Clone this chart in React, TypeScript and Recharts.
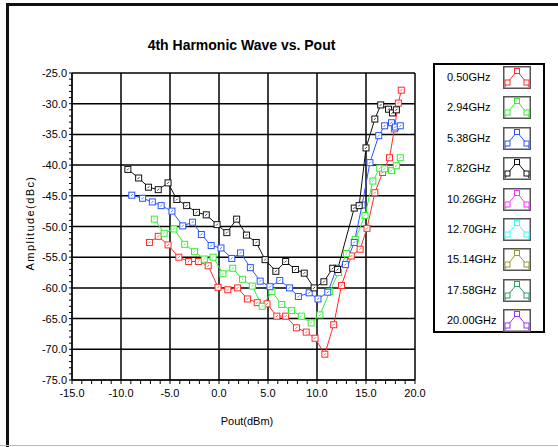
import { LineChart, Line, XAxis, YAxis, ReferenceLine } from "recharts";

// Pout (dBm) / amplitude (dBc), one pair of arrays per frequency
const RED_X = [-7.1, -6.2, -5.2, -4.1, -3.1, -2.1, -1.1, -0.1, 0.9, 1.9, 2.9, 3.9, 4.9, 5.9, 6.8, 7.9, 8.9, 9.8, 10.8, 11.7, 12.5, 13.5, 14.4, 15.1, 15.9, 16.7, 17.4, 17.9, 18.3, 18.6];
const RED_Y = [-52.6, -51.6, -53.0, -55.0, -55.7, -55.7, -56.4, -59.9, -60.3, -60.0, -61.8, -62.4, -62.6, -64.6, -64.6, -66.5, -67.2, -68.2, -70.8, -66.0, -59.6, -54.8, -53.7, -50.3, -44.5, -41.2, -38.8, -34.1, -29.9, -27.8];

const GREEN_X = [-6.6, -5.6, -4.6, -3.5, -2.5, -1.5, -0.6, 0.4, 1.4, 2.4, 3.4, 4.4, 5.4, 6.4, 7.4, 8.4, 9.4, 10.3, 11.3, 12.2, 13.0, 13.9, 14.9, 15.7, 16.4, 16.9, 17.6, 18.1, 18.5];
const GREEN_Y = [-48.8, -51.1, -50.4, -52.9, -54.1, -55.3, -55.0, -57.7, -56.8, -58.6, -59.7, -63.0, -60.6, -62.7, -63.7, -64.6, -65.7, -64.4, -60.6, -57.5, -54.4, -52.1, -48.2, -42.6, -40.5, -40.6, -40.9, -40.1, -38.8];

const BLUE_X = [-8.9, -7.8, -6.8, -5.9, -4.8, -3.7, -2.7, -1.8, -0.8, 0.2, 1.3, 2.2, 3.2, 4.2, 5.2, 6.2, 7.2, 8.1, 9.2, 10.1, 11.1, 12.0, 12.9, 13.8, 14.6, 15.4, 16.3, 16.9, 17.6, 18.0, 18.5];
const BLUE_Y = [-44.9, -45.4, -46.0, -46.6, -47.5, -49.9, -49.3, -51.3, -53.1, -53.5, -55.2, -54.3, -56.7, -58.9, -59.8, -58.8, -60.0, -61.4, -60.8, -61.8, -60.7, -56.8, -56.2, -52.6, -46.5, -39.6, -35.2, -33.6, -33.1, -33.8, -33.6];

const BLACK_X = [-9.3, -8.2, -7.2, -6.2, -5.2, -4.3, -3.3, -2.3, -1.3, -0.2, 0.8, 1.8, 2.8, 3.8, 4.7, 5.8, 6.8, 7.8, 8.7, 9.7, 10.7, 11.6, 12.1, 13.8, 14.3, 15.0, 15.9, 16.5, 17.3, 17.7, 18.1];
const BLACK_Y = [-40.7, -42.1, -43.6, -44.0, -42.9, -45.6, -46.6, -47.7, -48.1, -49.7, -51.0, -48.8, -51.4, -52.6, -55.4, -57.3, -55.7, -57.0, -57.6, -60.0, -59.0, -56.8, -57.0, -47.0, -46.6, -37.2, -32.5, -30.2, -30.9, -31.5, -31.0];

const LEGEND_LABELS = ["0.50GHz", "2.94GHz", "5.38GHz", "7.82GHz", "10.26GHz", "12.70GHz", "15.14GHz", "17.58GHz", "20.00GHz"];
const COLORS = ["#ff2b2b", "#33ee33", "#2a55ff", "#111111", "#ff33ff", "#33ffff", "#999933", "#339966", "#9933ff"];

const X_TICKS = Array.from({ length: 36 }, (_, i) => -15 + i);
const Y_TICKS = Array.from({ length: 51 }, (_, i) => -75 + i);
const X_MAJOR = [-15, -10, -5, 0, 5, 10, 15, 20];
const Y_MAJOR = [-75, -70, -65, -60, -55, -50, -45, -40, -35, -30, -25];

const FONT = '"Liberation Sans", Arial, sans-serif';

const zip = (xs: number[], ys: number[]) => xs.map((x, i) => ({ x, y: ys[i] }));

const SERIES = [
  { name: LEGEND_LABELS[0], color: COLORS[0], data: zip(RED_X, RED_Y) },
  { name: LEGEND_LABELS[1], color: COLORS[1], data: zip(GREEN_X, GREEN_Y) },
  { name: LEGEND_LABELS[2], color: COLORS[2], data: zip(BLUE_X, BLUE_Y) },
  { name: LEGEND_LABELS[3], color: COLORS[3], data: zip(BLACK_X, BLACK_Y) },
];

function squareDot(color: string) {
  return (p: any) => {
    if (p.cx == null || p.cy == null) return <g key={p.index} />;
    return (
      <g key={p.index}>
        <rect x={p.cx - 3} y={p.cy - 3} width={6} height={6} fill="#fff" stroke={color} strokeWidth={1} />
        <line x1={p.cx - 1} y1={p.cy + 1} x2={p.cx + 1} y2={p.cy - 1} stroke={color} strokeWidth={0.8} />
      </g>
    );
  };
}

const XTick = (p: any) => {
  const v = p.payload.value;
  if (v % 5 !== 0) return <g />;
  return (
    <text x={p.x} y={p.y} dy={9} textAnchor="middle" fontSize={11} fill="#000" fontFamily={FONT}>
      {v.toFixed(1)}
    </text>
  );
};

const YTick = (p: any) => {
  const v = p.payload.value;
  if (v % 5 !== 0) return <g />;
  return (
    <text x={p.x} y={p.y} dy={4} textAnchor="end" fontSize={11} fill="#000" fontFamily={FONT}>
      {v.toFixed(1)}
    </text>
  );
};

function LegendIcon({ color }: { color: string }) {
  return (
    <svg width={28} height={23} style={{ display: "block" }}>
      <rect x={0.75} y={0.75} width={26.5} height={21.5} fill="#fff" stroke="#555" strokeWidth={1.5} />
      <polyline points="2,21 4.5,16.5 14,5 23.5,16.5 26,21" fill="none" stroke={color} strokeWidth={1} />
      {[
        [4.5, 16.5],
        [14, 5],
        [23.5, 16.5],
      ].map(([cx, cy], i) => (
        <rect key={i} x={cx - 2.5} y={cy - 2.5} width={5} height={5} fill="#fff" stroke={color} strokeWidth={1} />
      ))}
    </svg>
  );
}

export default function App() {
  return (
    <div style={{ position: "relative", width: 558, height: 447, background: "#fff", fontFamily: FONT, overflow: "hidden" }}>
      <style>{`body{margin:0}`}</style>

      {/* outer frame */}
      <div style={{ position: "absolute", left: 6, top: 3, width: 552, height: 3, background: "#111" }} />
      <div style={{ position: "absolute", left: 6, top: 3, width: 3, height: 444, background: "#111" }} />
      <div style={{ position: "absolute", left: 0, top: 445, width: 558, height: 1, background: "#bbb" }} />

      <div style={{ position: "absolute", left: 0, top: 37, width: 483, textAlign: "center", fontSize: 14, fontWeight: "bold" }}>
        4th Harmonic Wave vs. Pout
      </div>

      <div
        style={{
          position: "absolute",
          left: 30,
          top: 223,
          transform: "translate(-50%, -50%) rotate(-90deg)",
          fontSize: 11,
          letterSpacing: 1.4,
          whiteSpace: "nowrap",
        }}
      >
        Amplitude(dBc)
      </div>

      <div style={{ position: "absolute", left: 247, top: 421, transform: "translate(-50%, -50%)", fontSize: 11, whiteSpace: "nowrap" }}>
        Pout(dBm)
      </div>

      <LineChart width={558} height={447} margin={{ top: 73, right: 143, bottom: 37, left: 8 }} style={{ position: "absolute", left: 0, top: 0 }}>
        <XAxis
          type="number"
          dataKey="x"
          domain={[-15, 20]}
          ticks={X_TICKS}
          interval={0}
          allowDataOverflow
          height={30}
          tickSize={4}
          tickMargin={4}
          tick={XTick}
          axisLine={{ stroke: "#000" }}
          tickLine={{ stroke: "#000" }}
        />
        <YAxis
          type="number"
          domain={[-75, -25]}
          ticks={Y_TICKS}
          interval={0}
          allowDataOverflow
          width={64}
          tickSize={3}
          tickMargin={2}
          tick={YTick}
          axisLine={{ stroke: "#000" }}
          tickLine={{ stroke: "#000" }}
        />
        {X_MAJOR.map((v) => (
          <ReferenceLine key={"x" + v} x={v} stroke="#000" strokeWidth={1.5} />
        ))}
        {Y_MAJOR.map((v) => (
          <ReferenceLine key={"y" + v} y={v} stroke="#000" strokeWidth={1.5} />
        ))}
        {SERIES.map((s) => (
          <Line
            key={s.name}
            data={s.data}
            dataKey="y"
            name={s.name}
            type="linear"
            stroke={s.color}
            strokeWidth={1}
            dot={squareDot(s.color)}
            activeDot={false}
            isAnimationActive={false}
          />
        ))}
      </LineChart>

      {/* legend */}
      <div
        style={{
          position: "absolute",
          left: 433,
          top: 63,
          width: 108,
          height: 266,
          border: "2px solid #000",
          background: "#fff",
        }}
      >
        {LEGEND_LABELS.map((label, i) => (
          <div key={label} style={{ position: "absolute", left: 0, top: 1 + i * 30.4, width: 108, height: 23 }}>
            <span style={{ position: "absolute", left: 12, top: 5, fontSize: 11 }}>{label}</span>
            <div style={{ position: "absolute", left: 68, top: 0 }}>
              <LegendIcon color={COLORS[i]} />
            </div>
          </div>
        ))}
      </div>
    </div>
  );
}
